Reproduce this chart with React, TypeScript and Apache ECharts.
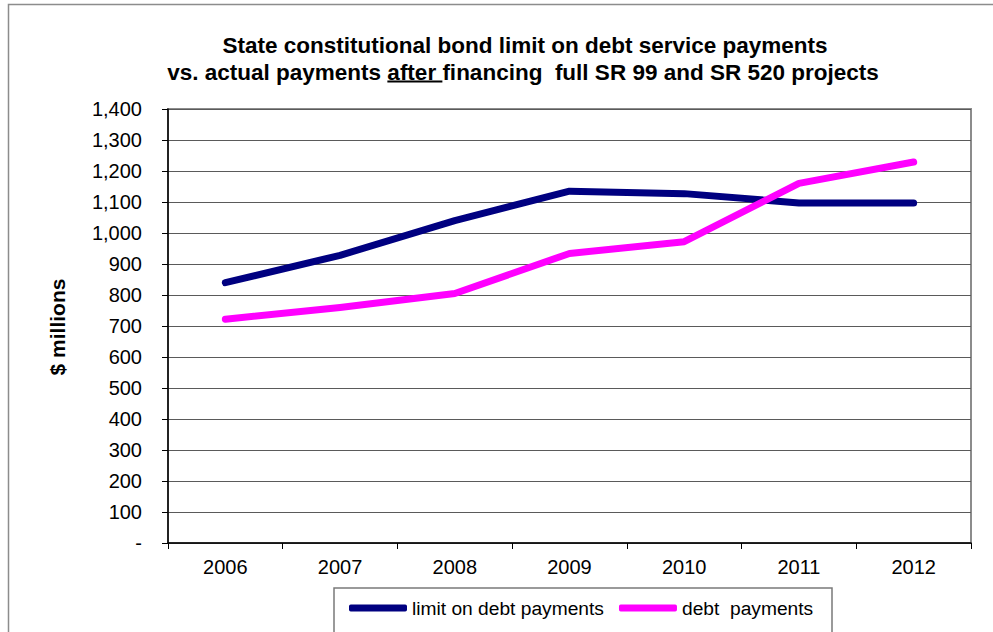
import React, { useEffect, useRef } from "react";
import * as echarts from "echarts";

const years = ["2006", "2007", "2008", "2009", "2010", "2011", "2012"];
const limitPayments = [840, 928, 1040, 1135, 1127, 1097, 1097];
const debtPayments = [722, 760, 805, 934, 972, 1160, 1229];
const seriesNames = ["limit on debt payments", "debt  payments"];
const titleLine1 = "State constitutional bond limit on debt service payments";
const titleLine2Parts = ["vs. actual payments ", "after ", "financing\u00a0 full SR 99 and SR 520 projects"];
const yAxisTitle = "$ millions";

const FONT = "'Liberation Sans', Arial, Helvetica, sans-serif";

function measure(text: string, font: string): number {
  const c = document.createElement("canvas");
  const ctx = c.getContext("2d");
  if (!ctx) return text.length * 10;
  ctx.font = font;
  return ctx.measureText(text).width;
}

export default function App() {
  const ref = useRef<HTMLDivElement>(null);
  useEffect(() => {
    if (!ref.current) return;
    const chart = echarts.init(ref.current, null, { renderer: "svg" });

    const titleSize = 22.5;
    const titleFont = `bold ${titleSize}px ${FONT}`;
    const w1 = measure(titleLine2Parts[0], titleFont);
    const w2 = measure(titleLine2Parts[1], titleFont);
    const w3 = measure(titleLine2Parts[2], titleFont);
    const total2 = w1 + w2 + w3;
    const cx2 = 523;
    const x0 = cx2 - total2 / 2;
    const line2Y = 72.5;

    const titleTextStyle = {
      fontFamily: FONT,
      fontWeight: "bold",
      fontSize: titleSize,
      fill: "#000",
    };

    chart.setOption({
      animation: false,
      backgroundColor: "#fff",
      grid: {
        left: 168,
        top: 109,
        right: 22,
        bottom: 89,
        show: true,
        borderColor: "#8c8c8c",
        borderWidth: 2,
        backgroundColor: "transparent",
      },
      xAxis: {
        type: "category",
        data: years,
        boundaryGap: true,
        axisLine: { lineStyle: { color: "#000", width: 1.5 } },
        axisTick: { show: true, length: 6, lineStyle: { color: "#000" } },
        axisLabel: {
          color: "#000",
          fontFamily: FONT,
          fontSize: 20,
          margin: 14,
        },
        splitLine: { show: false },
      },
      yAxis: {
        type: "value",
        min: 0,
        max: 1400,
        interval: 100,
        axisLine: { show: true, lineStyle: { color: "#000", width: 1.5 } },
        axisTick: { show: true, length: 6, lineStyle: { color: "#000" } },
        axisLabel: {
          color: "#000",
          fontFamily: FONT,
          fontSize: 20,
          margin: 26,
          formatter: (v: number) => (v === 0 ? "-" : v.toLocaleString("en-US")),
        },
        splitLine: { show: true, lineStyle: { color: "#5a5a5a", width: 1 } },
      },
      legend: {
        left: 349,
        top: 598,
        padding: 0,
        itemGap: 15,
        itemWidth: 58,
        itemHeight: 7,
        icon: "roundRect",
        textStyle: {
          color: "#000",
          fontFamily: FONT,
          fontSize: 19.2,
          lineHeight: 20,
        },
        data: seriesNames,
      },
      series: [
        {
          name: seriesNames[0],
          type: "line",
          data: limitPayments,
          showSymbol: false,
          symbol: "none",
          color: "#000080",
          lineStyle: { color: "#000080", width: 7, cap: "round", join: "round" },
        },
        {
          name: seriesNames[1],
          type: "line",
          data: debtPayments,
          showSymbol: false,
          symbol: "none",
          color: "#ff00ff",
          lineStyle: { color: "#ff00ff", width: 7, cap: "round", join: "round" },
        },
      ],
      graphic: [
        {
          type: "rect",
          shape: { x: 8.5, y: 4.5, width: 1200, height: 900 },
          style: { fill: "none", stroke: "#8c8c8c", lineWidth: 1.5 },
          silent: true,
          z: -10,
        },
        {
          type: "rect",
          shape: { x: 334, y: 588, width: 498, height: 80 },
          style: { fill: "none", stroke: "#7a7a7a", lineWidth: 1.5 },
          silent: true,
        },
        {
          type: "text",
          x: 525,
          y: 45.5,
          style: { ...titleTextStyle, text: titleLine1, align: "center", verticalAlign: "middle" },
        },
        {
          type: "text",
          x: x0,
          y: line2Y,
          style: { ...titleTextStyle, text: titleLine2Parts[0], align: "left", verticalAlign: "middle" },
        },
        {
          type: "text",
          x: x0 + w1,
          y: line2Y,
          style: { ...titleTextStyle, text: titleLine2Parts[1], align: "left", verticalAlign: "middle" },
        },
        {
          type: "text",
          x: x0 + w1 + w2,
          y: line2Y,
          style: { ...titleTextStyle, text: titleLine2Parts[2], align: "left", verticalAlign: "middle" },
        },
        {
          type: "line",
          shape: { x1: x0 + w1, y1: 81.5, x2: x0 + w1 + w2, y2: 81.5 },
          style: { stroke: "#000", lineWidth: 2 },
        },
        {
          type: "text",
          x: 57,
          y: 327,
          rotation: Math.PI / 2,
          style: {
            text: yAxisTitle,
            fontFamily: FONT,
            fontWeight: "bold",
            fontSize: 21,
            fill: "#000",
            align: "center",
            verticalAlign: "middle",
          },
        },
      ],
    });
    return () => chart.dispose();
  }, []);

  return (
    <div
      ref={ref}
      style={{ position: "absolute", left: 0, top: 0, width: 993, height: 632 }}
    />
  );
}
